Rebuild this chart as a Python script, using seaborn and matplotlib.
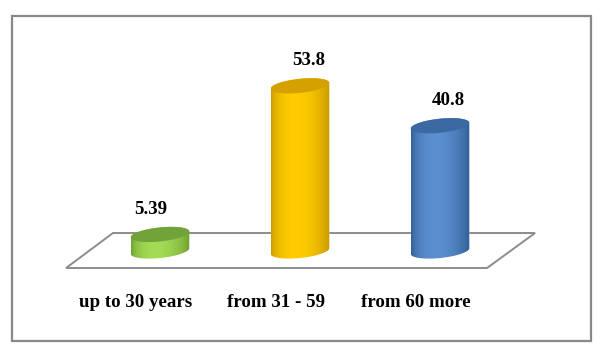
import numpy as np
import matplotlib
matplotlib.use('Agg')
import matplotlib.pyplot as plt
from matplotlib.patches import Ellipse, Polygon, Rectangle
from matplotlib.transforms import IdentityTransform
from matplotlib.colors import to_rgb
import seaborn as sns

# ── Data ─────────────────────────────────────────────────────────────────────
categories   = ["up to 30 years", "from 31 - 59", "from 60 more"]
values       = [5.39, 53.8, 40.8]
value_labels = ["5.39", "53.8", "40.8"]

# ── Style ────────────────────────────────────────────────────────────────────
side_light = ["#a3dc55", "#ffcc00", "#5b8fd0"]
side_dark  = ["#6b9a2e", "#c49500", "#2e5a8e"]
top_colors = ["#72a23a", "#d4a100", "#3b69a1"]
label_dx   = [-9, 9, 8]          # px nudge of value labels
W, H, DPI  = 603, 353, 100
TILT       = np.deg2rad(6)       # tilt of the cylinder caps
CAP_H      = 14                  # px, minor axis of the caps

sns.set_theme(style="white")
plt.rcParams['font.family'] = ['Liberation Serif', 'DejaVu Serif']

fig = plt.figure(figsize=(W / DPI, H / DPI), dpi=DPI)
ax = fig.add_axes([20 / W, 9.9 / H, 560 / W, 337.7 / H])
sns.barplot(x=categories, y=values, hue=categories, palette=side_light,
            width=0.42, errorbar=None, legend=False, saturation=1, ax=ax, zorder=2)
ax.set_xlim(-1, 3)
ax.set_ylim(-30, 80)
ax.axis('off')

px_x = ax.get_position().width * W / 4


def ellipse_pts(center, a, b, phi):
    xp, yp = ax.transData.transform(center)
    x = a * np.cos(phi) * np.cos(TILT) - b * np.sin(phi) * np.sin(TILT)
    y = a * np.cos(phi) * np.sin(TILT) + b * np.sin(phi) * np.cos(TILT)
    return np.column_stack([xp + x, yp + y])


# floor (back edge hidden behind the cylinders)
floor = Polygon([(-0.671, -5.54), (2.336, -5.54), (2.679, 5.86), (-0.336, 5.86)],
                closed=True, fc='white', ec='#8c8c8c', lw=1.4, zorder=1)
ax.add_patch(floor)

t = np.linspace(0, 1, 256)
shape = np.sin(np.pi * t ** 0.8) ** 0.7

for i, bar in enumerate(ax.patches[:len(values)]):
    x0, w, h = bar.get_x(), bar.get_width(), bar.get_height()
    cx = x0 + w / 2
    a, b = w * px_x / 2, CAP_H / 2
    phi_r = np.arctan(-(b / a) * np.tan(TILT))

    # cylinder body: lower arc of base + upper arc of cap
    lower = ellipse_pts((cx, 0), a, b, np.linspace(phi_r + np.pi, phi_r + 2 * np.pi, 80))
    upper = ellipse_pts((cx, h), a, b, np.linspace(phi_r, phi_r + np.pi, 80))
    body = Polygon(np.vstack([lower, upper]), closed=True, transform=IdentityTransform(),
                   fc='none', ec='none')
    ax.add_artist(body)
    bar.set_clip_path(body)

    lo, hi = np.array(to_rgb(side_dark[i])), np.array(to_rgb(side_light[i]))
    img = (lo + (hi - lo) * shape[:, None])[None, :, :]
    im = ax.imshow(img, extent=[x0, x0 + w, -10, h + 5], aspect='auto',
                   interpolation='bilinear', zorder=3)
    im.set_clip_path(body)

    top = Polygon(ellipse_pts((cx, h), a, b, np.linspace(0, 2 * np.pi, 120)), closed=True,
                  transform=IdentityTransform(), fc=top_colors[i], ec='none', zorder=4)
    ax.add_artist(top)

    ax.annotate(value_labels[i], (cx, h), xytext=(label_dx[i] * 0.72, 15),
                textcoords='offset points', ha='center', va='baseline',
                fontsize=13.6, fontweight='bold', color='black')
    ax.annotate(categories[i], (cx, 0), xytext=(-24 * 0.72, -56 * 0.72),
                textcoords='offset points', ha='center', va='baseline',
                fontsize=13.6, fontweight='bold', color='black')

ax.set_xlim(-1, 3)
ax.set_ylim(-30, 80)

fig.add_artist(Rectangle((12 / W, 12 / H), 579 / W, 325 / H, transform=fig.transFigure,
                         fill=False, ec='#888888', lw=1.6))

fig.savefig('out.png', dpi=DPI)
